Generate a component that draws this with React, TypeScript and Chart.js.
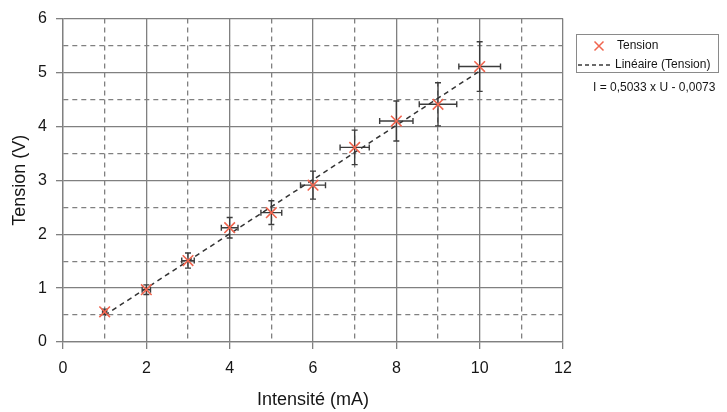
import React, { useEffect, useRef } from "react";
import { Chart, registerables } from "chart.js";

Chart.register(...registerables);

// Data
const intensite = [1, 2, 3, 4, 5, 6, 7, 8, 9, 10];
const tension = [0.56, 0.97, 1.51, 2.12, 2.4, 2.91, 3.61, 4.1, 4.41, 5.11];
const errIntensite = [0.05, 0.1, 0.15, 0.2, 0.25, 0.3, 0.35, 0.4, 0.45, 0.5];
const errTension = [0.05, 0.09, 0.14, 0.19, 0.22, 0.26, 0.32, 0.37, 0.4, 0.46];
const trendX = [1, 10];
const trendY = [0.496, 5.026];
const xTickLabels = ["0", "2", "4", "6", "8", "10", "12"];
const yTickLabels = ["0", "1", "2", "3", "4", "5", "6"];
const seriesName = "Tension";
const trendName = "Linéaire (Tension)";
const equation = "I = 0,5033 x U - 0,0073";

const FONT = "'Liberation Sans', Arial, Helvetica, sans-serif";
const GRID = "#808080";
const TEXT = "#161616";
const RED = "#f0654f";

const errorBarPlugin = {
  id: "errorBars",
  beforeDatasetsDraw(chart: any) {
    const ctx = chart.ctx;
    const xs = chart.scales.x;
    const ys = chart.scales.y;
    ctx.save();
    ctx.strokeStyle = "#3c3c3c";
    ctx.lineWidth = 1.4;
    const cap = 3;
    for (let i = 0; i < intensite.length; i++) {
      const cx = xs.getPixelForValue(intensite[i]);
      const cy = ys.getPixelForValue(tension[i]);
      const x1 = xs.getPixelForValue(intensite[i] - errIntensite[i]);
      const x2 = xs.getPixelForValue(intensite[i] + errIntensite[i]);
      const y1 = ys.getPixelForValue(tension[i] - errTension[i]);
      const y2 = ys.getPixelForValue(tension[i] + errTension[i]);
      ctx.beginPath();
      ctx.moveTo(x1, cy);
      ctx.lineTo(x2, cy);
      ctx.moveTo(x1, cy - cap);
      ctx.lineTo(x1, cy + cap);
      ctx.moveTo(x2, cy - cap);
      ctx.lineTo(x2, cy + cap);
      ctx.moveTo(cx, y1);
      ctx.lineTo(cx, y2);
      ctx.moveTo(cx - cap, y1);
      ctx.lineTo(cx + cap, y1);
      ctx.moveTo(cx - cap, y2);
      ctx.lineTo(cx + cap, y2);
      ctx.stroke();
    }
    ctx.restore();
  },
};

const legendPlugin = {
  id: "customLegend",
  afterDraw(chart: any) {
    const ctx = chart.ctx;
    ctx.save();
    ctx.strokeStyle = "#8a8a8a";
    ctx.lineWidth = 1;
    ctx.strokeRect(576.5, 34.5, 142, 38);
    // red cross
    ctx.strokeStyle = RED;
    ctx.lineWidth = 1.5;
    ctx.beginPath();
    ctx.moveTo(594.5, 41.5);
    ctx.lineTo(603.5, 50.5);
    ctx.moveTo(603.5, 41.5);
    ctx.lineTo(594.5, 50.5);
    ctx.stroke();
    // dashed line
    ctx.strokeStyle = "#3a3a3a";
    ctx.setLineDash([4, 3]);
    ctx.beginPath();
    ctx.moveTo(578, 65);
    ctx.lineTo(613, 65);
    ctx.stroke();
    ctx.setLineDash([]);
    ctx.fillStyle = TEXT;
    ctx.font = `12px ${FONT}`;
    ctx.textBaseline = "middle";
    ctx.textAlign = "left";
    ctx.fillText(seriesName, 617, 46);
    ctx.fillText(trendName, 615, 65);
    ctx.fillText(equation, 593, 88);
    ctx.restore();
  },
};

export default function App() {
  const ref = useRef<HTMLCanvasElement | null>(null);
  useEffect(() => {
    if (!ref.current) return;
    const chart = new Chart(ref.current, {
      type: "scatter",
      data: {
        datasets: [
          {
            type: "line",
            label: trendName,
            data: trendX.map((x, i) => ({ x, y: trendY[i] })),
            borderColor: "#333333",
            borderWidth: 1.5,
            borderDash: [5, 4],
            pointRadius: 0,
            fill: false,
            order: 2,
          } as any,
          {
            label: seriesName,
            data: intensite.map((x, i) => ({ x, y: tension[i] })),
            pointStyle: "crossRot",
            pointRadius: 7.5,
            pointBorderColor: RED,
            pointBorderWidth: 1.6,
            borderColor: RED,
            backgroundColor: RED,
            showLine: false,
            order: 1,
          },
        ],
      },
      plugins: [errorBarPlugin, legendPlugin],
      options: {
        responsive: false,
        animation: false,
        layout: { padding: { top: 17, right: 164, left: 0, bottom: 0 } },
        plugins: { legend: { display: false }, tooltip: { enabled: false } },
        scales: {
          x: {
            type: "linear",
            position: "bottom",
            min: 0,
            max: 12,
            afterFit: (s: any) => {
              s.height = 70;
            },
            ticks: {
              stepSize: 1,
              autoSkip: false,
              maxRotation: 0,
              maxTicksLimit: 30,
              padding: 10,
              color: TEXT,
              font: { family: FONT, size: 16 },
              callback: (v: any) => (v % 2 === 0 ? xTickLabels[v / 2] : ""),
            },
            grid: {
              color: GRID,
              lineWidth: 1.3,
              tickLength: 7,
              tickWidth: 1.3,
              tickColor: (c: any) => (c.tick && c.tick.value % 2 === 0 ? GRID : "rgba(0,0,0,0)"),
            },
            border: {
              color: GRID,
              width: 1.3,
              dash: (c: any) => (c.tick && c.tick.value % 2 !== 0 ? [5, 4] : []),
            },
            title: {
              display: true,
              text: "Intensité (mA)",
              color: TEXT,
              font: { family: FONT, size: 18 },
              padding: { top: 0, bottom: 1 },
            },
          },
          y: {
            type: "linear",
            min: 0,
            max: 6,
            afterFit: (s: any) => {
              s.width = 63;
            },
            ticks: {
              stepSize: 0.5,
              autoSkip: false,
              maxTicksLimit: 30,
              padding: 9,
              color: TEXT,
              font: { family: FONT, size: 16 },
              callback: (v: any) => (v % 1 === 0 ? yTickLabels[v] : ""),
            },
            grid: {
              color: GRID,
              lineWidth: 1.3,
              tickLength: 7,
              tickWidth: 1.3,
              tickColor: (c: any) => (c.tick && c.tick.value % 1 === 0 ? GRID : "rgba(0,0,0,0)"),
            },
            border: {
              color: GRID,
              width: 1.3,
              dash: (c: any) => (c.tick && c.tick.value % 1 !== 0 ? [5, 4] : []),
            },
            title: {
              display: true,
              text: "Tension (V)",
              color: TEXT,
              font: { family: FONT, size: 18 },
              padding: { top: 9, bottom: 0 },
            },
          },
        },
      },
    });
    return () => chart.destroy();
  }, []);
  return (
    <div style={{ position: "fixed", left: 0, top: 0, width: 727, height: 412, background: "#fff" }}>
      <canvas ref={ref} width={727} height={412} style={{ width: 727, height: 412 }} />
    </div>
  );
}
